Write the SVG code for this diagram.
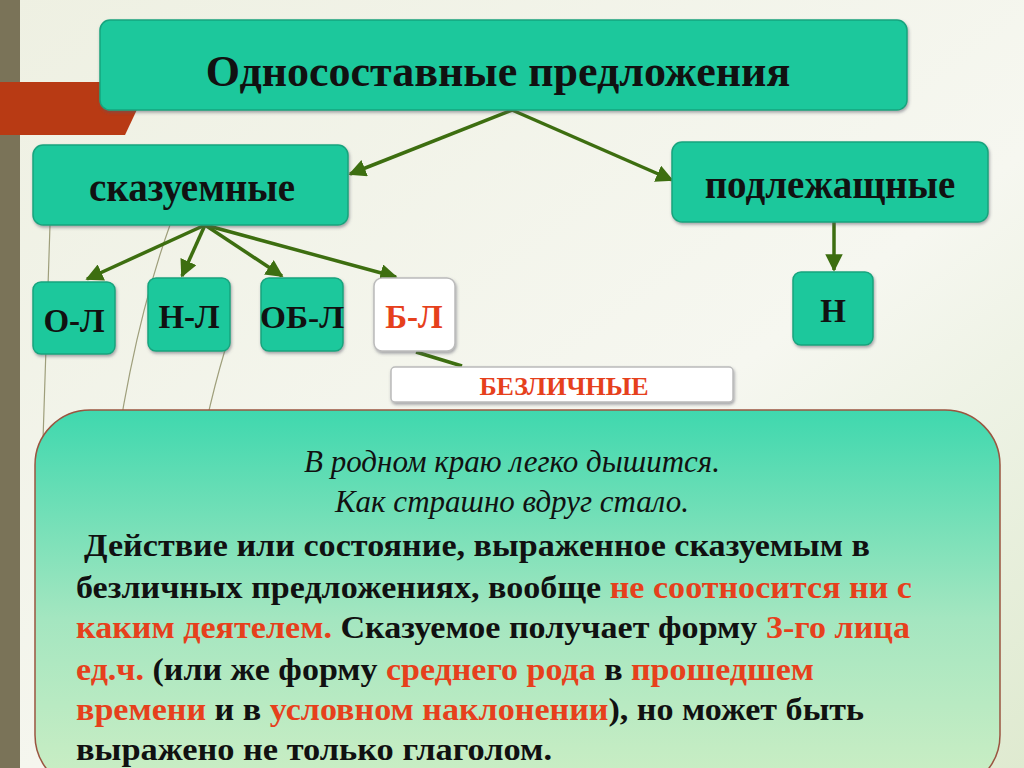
<svg xmlns="http://www.w3.org/2000/svg" width="1024" height="768" viewBox="0 0 1024 768">
<defs>
<linearGradient id="bg" x1="0" y1="0" x2="1" y2="1"><stop offset="0" stop-color="#eef0e2"/><stop offset="0.6" stop-color="#f6f7f0"/><stop offset="1" stop-color="#dfead0"/></linearGradient>
<linearGradient id="big" x1="0" y1="0" x2="0" y2="1"><stop offset="0" stop-color="#3fd8ae"/><stop offset="0.55" stop-color="#a4e6c0"/><stop offset="1" stop-color="#cdeec4"/></linearGradient>
<marker id="ah" viewBox="0 0 10 10" refX="9" refY="5" markerWidth="5" markerHeight="5" orient="auto"><path d="M0,0L10,5L0,10z" fill="#3d6e10"/></marker>
<filter id="sh" x="-5%" y="-5%" width="110%" height="120%"><feDropShadow dx="1" dy="2" stdDeviation="1.5" flood-color="#556" flood-opacity="0.5"/></filter>
</defs>
<style>
.box{fill:#1fc89c;stroke:#17a47e;stroke-width:1.5;filter:url(#sh)}
.wbox{fill:#fff;stroke:#bbb;stroke-width:1.5;filter:url(#sh)}
.lbl{font-family:"Liberation Serif",serif;font-weight:bold;fill:#111;text-anchor:middle}
.red{fill:#e6401c}
.conn{stroke:#3d6e10;stroke-width:3.5;fill:none}
.p{font-family:"Liberation Serif",serif;font-weight:bold;font-size:32px;fill:#111}
.it{font-family:"Liberation Serif",serif;font-style:italic;font-size:31px;fill:#111;text-anchor:middle}
</style>
<rect width="1024" height="768" fill="url(#bg)"/>
<rect x="0" y="0" width="20" height="768" fill="#7a7358"/>
<path d="M0,82 L150,82 L125,135 L0,135z" fill="#b83a14"/>
<g stroke="#8a8a60" stroke-width="1.2" fill="none" opacity="0.8">
<path d="M50,225 L43,440 L60,768"/><path d="M170,225 Q100,420 90,768"/><path d="M225,350 Q180,500 160,768"/>
</g>
<g id="connectors">
<line class="conn" x1="512" y1="110" x2="350" y2="174" marker-end="url(#ah)"/>
<line class="conn" x1="512" y1="110" x2="672" y2="180" marker-end="url(#ah)"/>
<line class="conn" x1="205" y1="225" x2="87" y2="279" marker-end="url(#ah)"/>
<line class="conn" x1="205" y1="225" x2="182" y2="276" marker-end="url(#ah)"/>
<line class="conn" x1="205" y1="225" x2="282" y2="276" marker-end="url(#ah)"/>
<line class="conn" x1="205" y1="225" x2="396" y2="277" marker-end="url(#ah)"/>
<line class="conn" x1="834" y1="222" x2="834" y2="270" marker-end="url(#ah)"/>
<line class="conn" x1="416" y1="352" x2="462" y2="366"/>
</g>
<g id="title"><rect class="box" x="100" y="20" width="807" height="90" rx="10"/><text class="lbl" x="498" y="86" font-size="44">Односоставные предложения</text></g>
<g id="skaz"><rect class="box" x="33" y="145" width="315" height="80" rx="10"/><text class="lbl" x="192" y="201" font-size="39">сказуемные</text></g>
<g id="podl"><rect class="box" x="672" y="142" width="316" height="80" rx="10"/><text class="lbl" x="830" y="198" font-size="39">подлежащные</text></g>
<g id="ol"><rect class="box" x="33" y="282" width="82" height="72" rx="8"/><text class="lbl" x="74" y="332" font-size="33">О-Л</text></g>
<g id="nl"><rect class="box" x="148" y="278" width="82" height="73" rx="8"/><text class="lbl" x="189" y="328" font-size="33">Н-Л</text></g>
<g id="obl"><rect class="box" x="261" y="278" width="82" height="73" rx="8"/><text class="lbl" x="302" y="328" font-size="31" textLength="84" lengthAdjust="spacingAndGlyphs">ОБ-Л</text></g>
<g id="bl"><rect class="wbox" x="374" y="278" width="81" height="73" rx="8"/><text class="lbl red" x="414" y="328" font-size="33">Б-Л</text></g>
<g id="n"><rect class="box" x="793" y="272" width="80" height="73" rx="8"/><text class="lbl" x="833" y="322" font-size="33">Н</text></g>
<g id="bezl"><rect class="wbox" x="391" y="367" width="342" height="35" rx="4"/><text class="lbl red" x="564" y="395" font-size="26">БЕЗЛИЧНЫЕ</text></g>
<g id="main">
<rect x="35" y="410" width="965" height="380" rx="55" fill="url(#big)" stroke="#9a5540" stroke-width="1.5"/>
<text class="it" x="512" y="472">В родном краю легко дышится.</text>
<text class="it" x="512" y="512">Как страшно вдруг стало.</text>
<text class="p" x="84" y="556" textLength="786" lengthAdjust="spacingAndGlyphs">Действие или состояние, выраженное сказуемым в</text>
<text class="p" x="76" y="598" textLength="836" lengthAdjust="spacingAndGlyphs">безличных предложениях, вообще <tspan class="red">не соотносится ни с</tspan></text>
<text class="p" x="76" y="638" textLength="834" lengthAdjust="spacingAndGlyphs"><tspan class="red">каким деятелем.</tspan> Сказуемое получает форму <tspan class="red">3-го лица</tspan></text>
<text class="p" x="76" y="680" textLength="738" lengthAdjust="spacingAndGlyphs"><tspan class="red">ед.ч.</tspan> (или же форму <tspan class="red">среднего рода</tspan> в <tspan class="red">прошедшем</tspan></text>
<text class="p" x="76" y="720" textLength="788" lengthAdjust="spacingAndGlyphs"><tspan class="red">времени</tspan> и в <tspan class="red">условном наклонении</tspan>), но может быть</text>
<text class="p" x="76" y="760" textLength="476" lengthAdjust="spacingAndGlyphs">выражено не только глаголом.</text>
</g>
</svg>
